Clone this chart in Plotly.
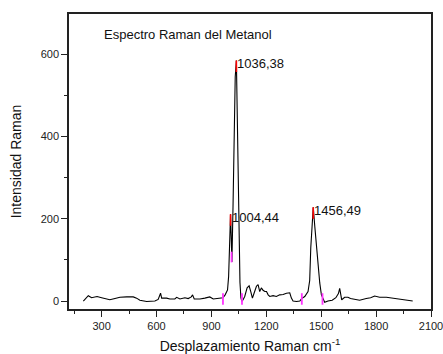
import plotly.graph_objects as go

# Raman spectrum of methanol (shift in cm-1, intensity in counts)
raman_shift = [200, 215, 227, 245, 262, 275, 300, 327, 345, 373, 400, 437, 473, 491, 509,
               546, 591, 609, 622, 628, 655, 673, 700, 710, 728, 755, 773, 790, 797, 806,
               837, 864, 891, 910, 946, 963, 975, 988, 994, 999, 1004.44, 1008, 1012, 1018,
               1024, 1030, 1036.38, 1041, 1046, 1051, 1056, 1061, 1066, 1073, 1082, 1095,
               1106, 1115, 1124, 1133, 1146, 1155, 1164, 1173, 1182, 1192, 1201, 1210, 1219,
               1237, 1255, 1273, 1292, 1310, 1328, 1337, 1346, 1365, 1383, 1393, 1410, 1428,
               1437, 1443, 1450, 1456.49, 1465, 1474, 1483, 1492, 1501, 1510, 1519, 1537,
               1560, 1580, 1587, 1594, 1601, 1606, 1612, 1628, 1646, 1660, 1674, 1710, 1746,
               1770, 1792, 1819, 1856, 1892, 1928, 1965, 2000]
intensity = [0, 6, 13, 8, 10, 11, 8, 5, 3, 6, 9, 10, 10, 7, 2,
             -1, 0, 4, 19, 7, 7, 5, 5, 9, 5, 8, 6, 10, 15, 5,
             5, 7, 10, 5, 6, 8, 15, 27, 60, 150, 211, 160, 95, 230,
             400, 545, 585, 470, 300, 140, 45, 8, -1, 3, 11, 32,
             37, 23, 7, 19, 36, 40, 23, 32, 26, 23, 23, 15, 11,
             13, 11, 15, 16, 19, 20, 7, 0, -1, 0, 6, 11, 23,
             50, 130, 200, 228, 181, 133, 84, 44, 15, 4, -3, 0,
             2, 8, 14, 18, 31, 20, 3, 9, 9, 6, 5, 2, 6,
             8, 12, 9, 9, 7, 5, 3, 0]

# Detected peaks (position, height)
peak_pos = [1004.44, 1036.38, 1456.49]
peak_height = [211, 585, 228]
peak_labels = ["1004,44", "1036,38", "1456,49"]

# Peak baseline / valley anchor markers (position, low, high)
anchor_pos = [963, 1010, 1067, 1394, 1507]
anchor_low = [-9, 94, -9, -9, -9]
anchor_high = [19, 120, 19, 19, 19]

font_family = "Liberation Sans, Arial, sans-serif"

fig = go.Figure()
fig.add_trace(go.Scatter(x=raman_shift, y=intensity, mode="lines",
                         line=dict(color="black", width=1.1), showlegend=False))

# red marks at peak tops
for px, ph in zip(peak_pos, peak_height):
    fig.add_trace(go.Scatter(x=[px, px], y=[ph, ph - 28], mode="lines",
                             line=dict(color="#ff0000", width=1.6), showlegend=False))

# magenta anchor marks
for ax, lo, hi in zip(anchor_pos, anchor_low, anchor_high):
    fig.add_trace(go.Scatter(x=[ax, ax], y=[lo, hi], mode="lines",
                             line=dict(color="#ff33ff", width=1.8), showlegend=False))

for px, ph, lab in zip(peak_pos, peak_height, peak_labels):
    fig.add_annotation(x=px, y=ph, text=lab, showarrow=False, xanchor="left",
                       yanchor="middle", yshift=-3, xshift=-1,
                       font=dict(family=font_family, size=13, color="#111"))

fig.add_annotation(x=0.091, y=0.929, xref="paper", yref="paper",
                   text="Espectro Raman del Metanol", showarrow=False,
                   xanchor="left", yanchor="middle",
                   font=dict(family=font_family, size=13, color="#111"))

axis_common = dict(showgrid=False, zeroline=False, showline=True, linecolor="#222",
                   linewidth=1.5, mirror=True, ticks="outside", ticklen=6,
                   tickwidth=1, tickcolor="#222", automargin=False,
                   ticklabeloverflow="allow",
                   tickfont=dict(family=font_family, size=11, color="#222"))

fig.update_xaxes(range=[121.6, 2100], tick0=0, dtick=300,
                 minor=dict(ticks="outside", ticklen=3, dtick=150, tick0=0,
                            tickcolor="#222"),
                 title=dict(text="Desplazamiento Raman cm<sup>-1</sup>", standoff=23,
                            font=dict(family=font_family, size=14, color="#111")),
                 **axis_common)
fig.update_yaxes(range=[-19.4, 698], tick0=0, dtick=200,
                 minor=dict(ticks="outside", ticklen=3, dtick=100, tick0=0,
                            tickcolor="#222"),
                 title=dict(text="Intensidad Raman", standoff=16,
                            font=dict(family=font_family, size=14, color="#111")),
                 **axis_common)

fig.update_layout(width=443, height=354,
                  margin=dict(l=69, r=12, t=14, b=45),
                  plot_bgcolor="white", paper_bgcolor="white",
                  font=dict(family=font_family))

fig.write_html("out.html")
